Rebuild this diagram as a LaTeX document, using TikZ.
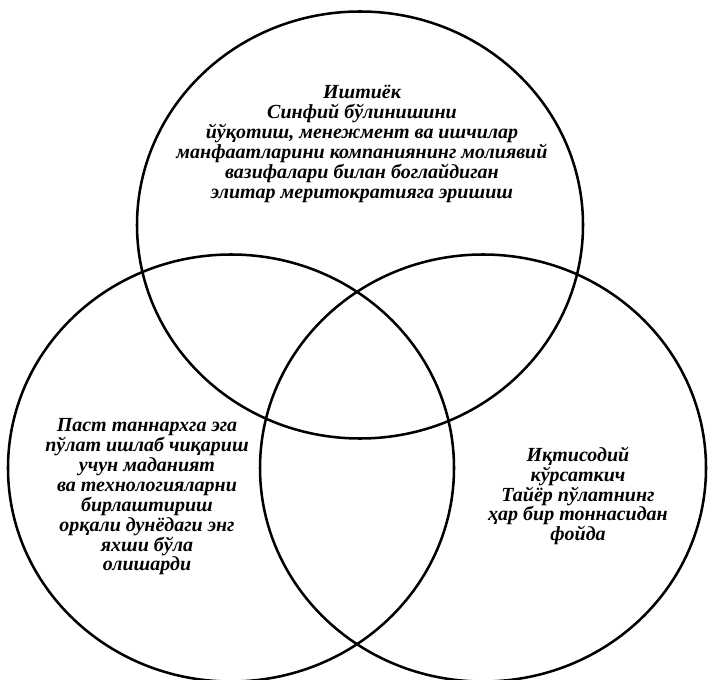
\documentclass[tikz,border=0pt]{standalone}
\usepackage{fontspec}
\setmainfont{Liberation Serif}
\usetikzlibrary{shapes.geometric}
\begin{document}
\begin{tikzpicture}[x=0.75pt,y=-0.75pt,
  venn/.style={draw=black,line width=1.9pt,ellipse,inner sep=0pt,
    minimum width=334.5pt,minimum height=320.25pt},
  label/.style={align=center,inner sep=0pt,
    font=\fontsize{15pt}{14.9pt}\selectfont\bfseries\itshape}]
\useasboundingbox (0,0) rectangle (709,680);
\node[venn] (top) at (360,225) {};
\node[venn] (left) at (231,468) {};
\node[venn] (right) at (483,468) {};
\node[label] (ttop) at (362,144) {Иштиёк\\Синфий бўлинишини\\йўқотиш, менежмент ва ишчилар\\манфаатларини компаниянинг молиявий\\вазифалари билан боглайдиган\\элитар меритократияга эришиш};
\node[label] (tleft) at (147,497) {Паст таннархга эга\\пўлат ишлаб чиқариш\\учун маданият\\ва технологияларни\\бирлаштириш\\орқали дунёдаги энг\\яхши бўла\\олишарди};
\node[label] (tright) at (578,496) {Иқтисодий\\кўрсаткич\\Тайёр пўлатнинг\\ҳар бир тоннасидан\\фойда};
\end{tikzpicture}
\end{document}
